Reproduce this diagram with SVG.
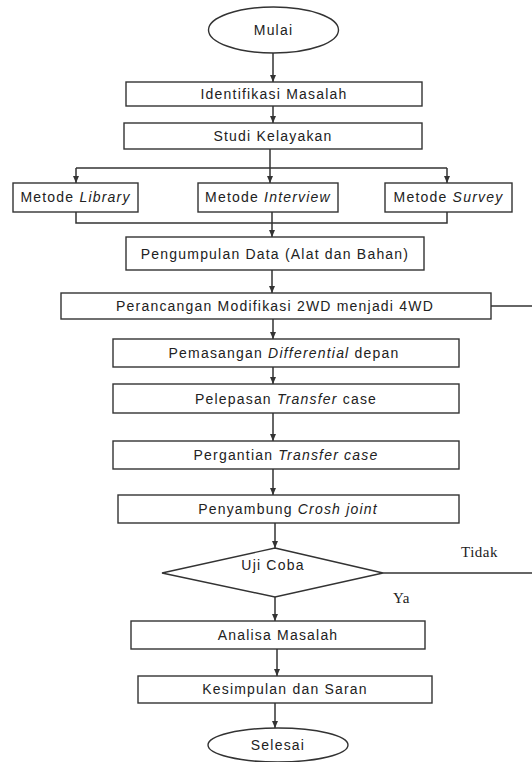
<svg xmlns="http://www.w3.org/2000/svg" width="532" height="762" viewBox="0 0 532 762">
<style>
.n{fill:#fff;stroke:#333;stroke-width:1.4}
.t{font-family:"Liberation Sans",Arial,sans-serif;font-size:14px;fill:#222;text-anchor:middle;letter-spacing:1.2px}
.s{font-family:"Liberation Serif","Times New Roman",serif;font-size:15px;fill:#222;letter-spacing:0.5px}
.c{fill:none;stroke:#333;stroke-width:1.5}
.i{font-style:italic}
</style>
<defs>
<marker id="a" markerWidth="8" markerHeight="8" refX="7" refY="4" orient="auto" markerUnits="userSpaceOnUse">
<path d="M0,1 L7,4 L0,7 Z" fill="#333"/>
</marker>
</defs>
<rect width="532" height="762" fill="#fff"/>
<g id="connectors">
<path class="c" d="M273,53 V82" marker-end="url(#a)"/>
<path class="c" d="M273,106 V123" marker-end="url(#a)"/>
<path class="c" d="M270,149 V168"/>
<path class="c" d="M76,168 H447"/>
<path class="c" d="M76,168 V183" marker-end="url(#a)"/>
<path class="c" d="M270,168 V183" marker-end="url(#a)"/>
<path class="c" d="M447,168 V183" marker-end="url(#a)"/>
<path class="c" d="M76,212 V223 H447 V212"/>
<path class="c" d="M272,212 V237" marker-end="url(#a)"/>
<path class="c" d="M272,270 V293" marker-end="url(#a)"/>
<path class="c" d="M491,306 H532"/>
<path class="c" d="M273,319 V339" marker-end="url(#a)"/>
<path class="c" d="M273,367 V384" marker-end="url(#a)"/>
<path class="c" d="M273,413 V441" marker-end="url(#a)"/>
<path class="c" d="M273,469 V495" marker-end="url(#a)"/>
<path class="c" d="M275,523 V548" marker-end="url(#a)"/>
<path class="c" d="M383,573 H532"/>
<path class="c" d="M275,597 V621" marker-end="url(#a)"/>
<path class="c" d="M277,649 V676" marker-end="url(#a)"/>
<path class="c" d="M275,703 V728" marker-end="url(#a)"/>
</g>
<g id="mulai">
<ellipse class="n" cx="273.5" cy="30" rx="65" ry="23"/>
<text class="t" x="273.5" y="30" dy="5">Mulai</text>
</g>
<g id="identifikasi">
<rect class="n" x="126" y="82" width="296" height="24"/>
<text class="t" x="274" y="99">Identifikasi Masalah</text>
</g>
<g id="studi">
<rect class="n" x="124" y="123" width="298" height="26"/>
<text class="t" x="273" y="141">Studi Kelayakan</text>
</g>
<g id="library">
<rect class="n" x="13" y="183" width="125" height="29"/>
<text class="t" x="75.5" y="202">Metode <tspan class="i">Library</tspan></text>
</g>
<g id="interview">
<rect class="n" x="198" y="183" width="140" height="29"/>
<text class="t" x="268" y="202">Metode <tspan class="i">Interview</tspan></text>
</g>
<g id="survey">
<rect class="n" x="385" y="183" width="127" height="29"/>
<text class="t" x="448.5" y="202">Metode <tspan class="i">Survey</tspan></text>
</g>
<g id="pengumpulan">
<rect class="n" x="126" y="237" width="298" height="33"/>
<text class="t" x="275" y="258.5">Pengumpulan Data (Alat dan Bahan)</text>
</g>
<g id="perancangan">
<rect class="n" x="61" y="293" width="430" height="26"/>
<text class="t" x="275" y="311">Perancangan Modifikasi 2WD menjadi 4WD</text>
</g>
<g id="pemasangan">
<rect class="n" x="113" y="339" width="346" height="28"/>
<text class="t" x="284" y="358">Pemasangan <tspan class="i">Differential</tspan> depan</text>
</g>
<g id="pelepasan">
<rect class="n" x="113" y="384" width="346" height="29"/>
<text class="t" x="286" y="403.5">Pelepasan <tspan class="i">Transfer</tspan> case</text>
</g>
<g id="pergantian">
<rect class="n" x="113" y="441" width="346" height="28"/>
<text class="t" x="286" y="460">Pergantian <tspan class="i">Transfer case</tspan></text>
</g>
<g id="penyambung">
<rect class="n" x="118" y="495" width="341" height="28"/>
<text class="t" x="288" y="514">Penyambung <tspan class="i">Crosh joint</tspan></text>
</g>
<g id="ujicoba">
<polygon class="n" points="275,548 383,573 275,597 162,573"/>
<text class="t" x="273" y="569.5">Uji Coba</text>
</g>
<g id="labels">
<text class="s" x="461" y="557">Tidak</text>
<text class="s" x="393" y="603">Ya</text>
</g>
<g id="analisa">
<rect class="n" x="131" y="621" width="294" height="28"/>
<text class="t" x="278" y="640">Analisa Masalah</text>
</g>
<g id="kesimpulan">
<rect class="n" x="138" y="676" width="294" height="27"/>
<text class="t" x="285" y="694">Kesimpulan dan Saran</text>
</g>
<g id="selesai">
<ellipse class="n" cx="278" cy="745" rx="70" ry="17"/>
<text class="t" x="278" y="750">Selesai</text>
</g>
</svg>
